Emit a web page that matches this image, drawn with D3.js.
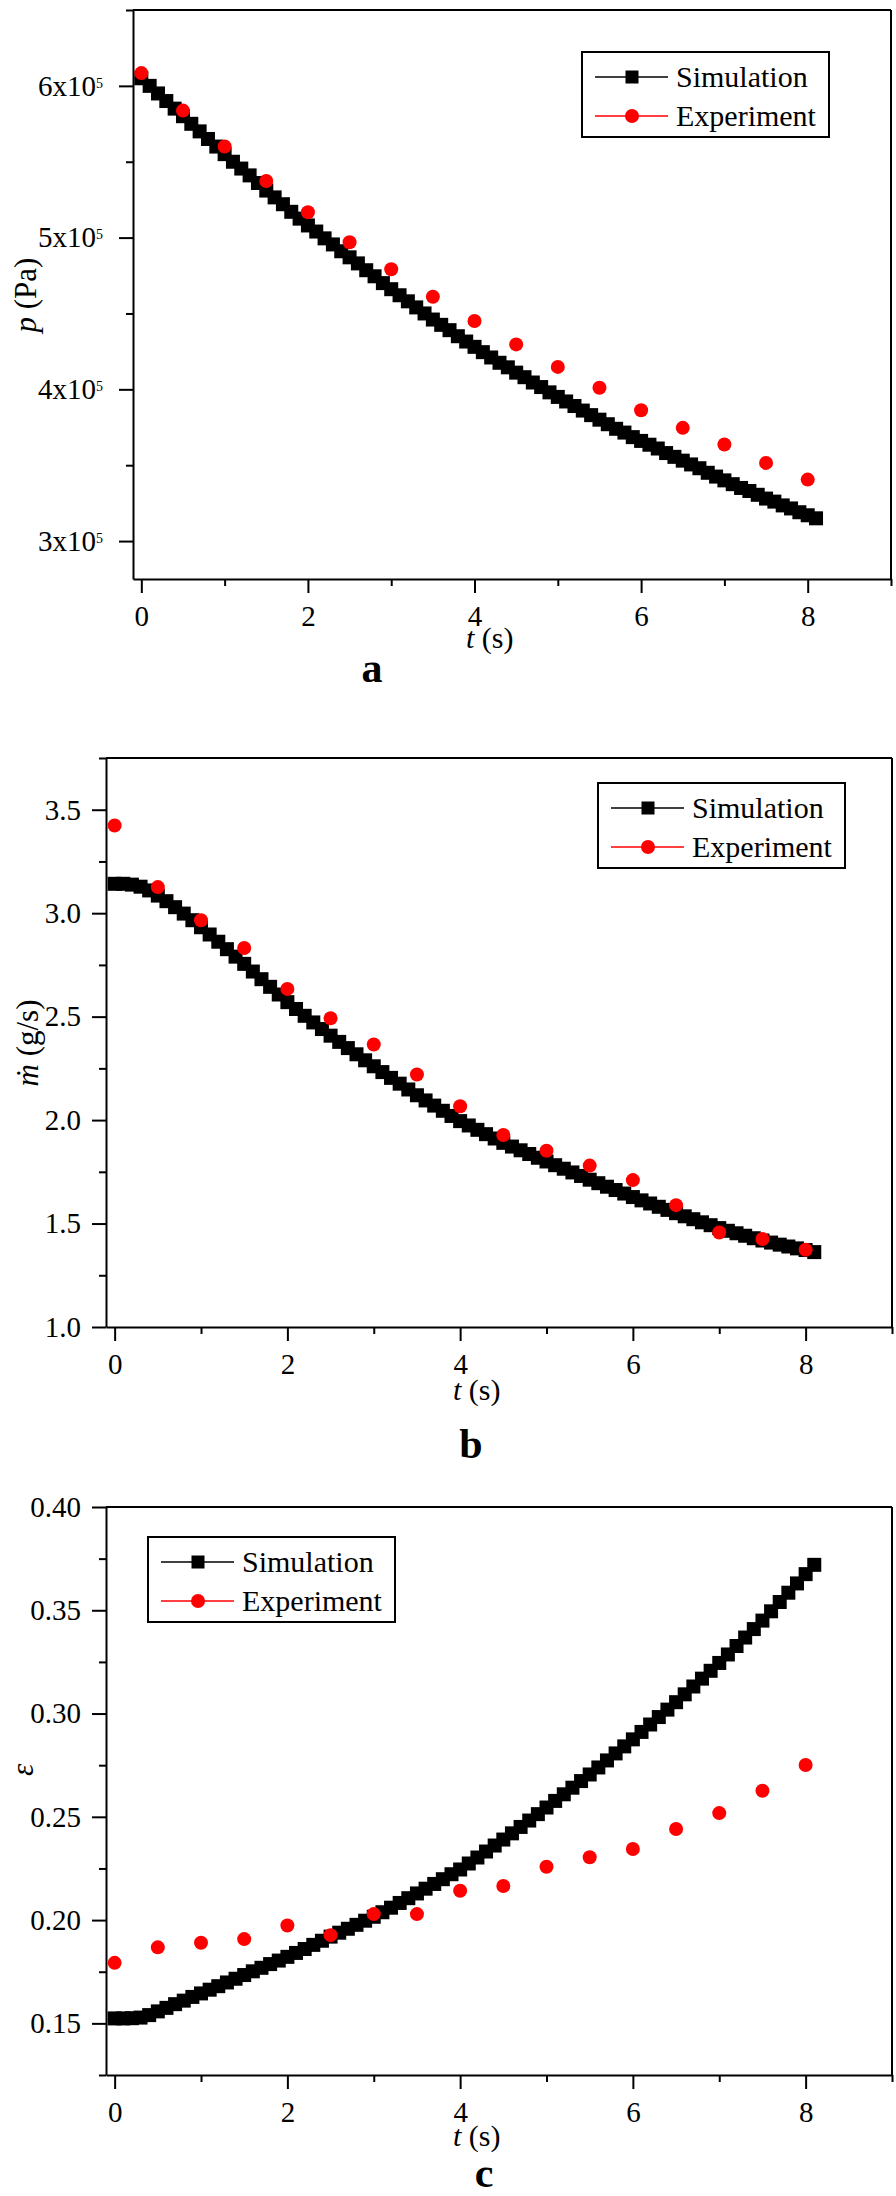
<!DOCTYPE html>
<html lang="en">
<head>
<meta charset="UTF-8">
<title>Simulation vs experiment: p, mass flow, epsilon</title>
<script src="https://d3js.org/d3.v7.min.js"></script>
<style>
  body { margin: 0; background: #fff; }
  svg { display: block; }
  text { font-family: "Liberation Serif", "Times New Roman", serif; fill: #000; }
  .tick text { font-size: 29px; }
  .tick line, .domain { stroke: #000; stroke-width: 2px; }
</style>
</head>
<body>
<svg id="fig" width="896" height="2196"></svg>
<script>
// time axis (s)
const tSim = [0,0.1,0.2,0.3,0.4,0.5,0.6,0.7,0.8,0.9,
  1.0,1.1,1.2,1.3,1.4,1.5,1.6,1.7,1.8,1.9,
  2.0,2.1,2.2,2.3,2.4,2.5,2.6,2.7,2.8,2.9,
  3.0,3.1,3.2,3.3,3.4,3.5,3.6,3.7,3.8,3.9,
  4.0,4.1,4.2,4.3,4.4,4.5,4.6,4.7,4.8,4.9,
  5.0,5.1,5.2,5.3,5.4,5.5,5.6,5.7,5.8,5.9,
  6.0,6.1,6.2,6.3,6.4,6.5,6.6,6.7,6.8,6.9,
  7.0,7.1,7.2,7.3,7.4,7.5,7.6,7.7,7.8,7.9,
  8.0,8.1];
const tExp = [0,0.5,1,1.5,2,2.5,3,3.5,4,4.5,5,5.5,6,6.5,7,7.5,8];

// (a) pressure, in units of 10^5 Pa
const pressureSim = [6.05,6.00,5.95,5.90,5.85,5.80,5.75,5.70,5.65,5.60,
  5.55,5.50,5.455,5.41,5.36,5.31,5.265,5.22,5.17,5.125,
  5.08,5.04,4.995,4.955,4.91,4.87,4.83,4.785,4.745,4.70,
  4.66,4.62,4.58,4.54,4.50,4.46,4.425,4.39,4.35,4.315,
  4.28,4.245,4.21,4.175,4.145,4.11,4.08,4.045,4.015,3.98,
  3.95,3.92,3.89,3.86,3.83,3.80,3.77,3.74,3.715,3.685,
  3.66,3.635,3.61,3.58,3.555,3.53,3.505,3.48,3.45,3.425,
  3.40,3.375,3.35,3.33,3.305,3.28,3.26,3.235,3.215,3.19,
  3.17,3.15];
const pressureExp = [6.084,5.837,5.60,5.373,5.167,4.969,4.791,4.610,4.450,
  4.296,4.148,4.010,3.862,3.746,3.636,3.515,3.405];

// (b) mass flow rate (g/s)
const flowSim = [3.142,3.142,3.138,3.128,3.11,3.085,3.058,3.029,2.998,2.966,
  2.932,2.897,2.862,2.826,2.79,2.755,2.718,2.681,2.644,2.607,
  2.57,2.537,2.504,2.472,2.44,2.408,2.378,2.348,2.318,2.289,
  2.26,2.232,2.204,2.176,2.148,2.12,2.095,2.07,2.045,2.02,
  1.995,1.974,1.953,1.932,1.911,1.89,1.872,1.854,1.836,1.818,
  1.80,1.782,1.765,1.747,1.73,1.712,1.695,1.678,1.662,1.645,
  1.628,1.612,1.597,1.581,1.566,1.55,1.535,1.521,1.506,1.492,
  1.478,1.465,1.453,1.441,1.429,1.418,1.408,1.398,1.389,1.38,
  1.372,1.362];
const flowExp = [3.424,3.126,2.966,2.832,2.634,2.492,2.365,2.220,2.067,
  1.928,1.852,1.780,1.710,1.589,1.457,1.425,1.373];

// (c) epsilon
const epsSim = [0.1524,0.1524,0.1525,0.1528,0.1540,0.1558,0.1575,0.1593,0.1610,0.1628,
  0.1645,0.1663,0.1680,0.1698,0.1716,0.1734,0.1752,0.1769,0.1787,0.1804,
  0.1822,0.1841,0.1860,0.1880,0.1900,0.1920,0.1939,0.1958,0.1977,0.1997,
  0.2016,0.2038,0.2060,0.2083,0.2106,0.2129,0.2152,0.2175,0.2198,0.2222,
  0.2245,0.2274,0.2303,0.2332,0.2361,0.2390,0.2420,0.2451,0.2482,0.2513,
  0.2545,0.2577,0.2609,0.2641,0.2673,0.2705,0.2739,0.2773,0.2807,0.2841,
  0.2875,0.2911,0.2947,0.2983,0.3019,0.3055,0.3093,0.3131,0.3169,0.3207,
  0.3245,0.3286,0.3327,0.3368,0.3409,0.3450,0.3495,0.3540,0.3585,0.3630,
  0.3675,0.3720];
const epsExp = [0.1793,0.1868,0.1890,0.1908,0.1974,0.1927,0.2029,0.2029,0.2142,
  0.2165,0.2258,0.2304,0.2344,0.2441,0.2518,0.2626,0.2751];

// ticks
const xMajor = [0, 2, 4, 6, 8];
const xMinor = [1, 3, 5, 7, 9];
const yMajorA = [3, 4, 5, 6];
const yMinorA = [3.5, 4.5, 5.5, 6.5];
const yMajorB = [1.0, 1.5, 2.0, 2.5, 3.0, 3.5];
const yMinorB = [1.25, 1.75, 2.25, 2.75, 3.25, 3.75];
const yMajorC = [0.15, 0.20, 0.25, 0.30, 0.35, 0.40];
const yMinorC = [0.125, 0.175, 0.225, 0.275, 0.325, 0.375];
const seriesNames = ["Simulation", "Experiment"];

const svg = d3.select("#fig");
const RED = "#ff0000";
const SQ = 14; // simulation marker side

const panels = [
  { left: 133, right: 891, top: 10, bottom: 579,
    yDomain: [2.75, 6.5], yMajor: yMajorA, yMinor: yMinorA, sci: true, yPad: 16,
    sim: pressureSim, exp: pressureExp,
    yTitle: "p", yUnit: " (Pa)", yTitleX: 36, yTitleY: 295,
    xTitle: [466, 648], legend: [582, 52], tag: "a", tagPos: [372, 682] },
  { left: 106, right: 892, top: 758, bottom: 1327,
    yDomain: [1.0, 3.75], yMajor: yMajorB, yMinor: yMinorB, fmt: d3.format(".1f"), yPad: 11,
    sim: flowSim, exp: flowExp,
    yTitle: "\u1E41", yUnit: " (g/s)", yTitleX: 38, yTitleY: 1043,
    xTitle: [453, 1400], legend: [598, 783], tag: "b", tagPos: [471, 1458] },
  { left: 106, right: 892, top: 1507, bottom: 2075,
    yDomain: [0.125, 0.40], yMajor: yMajorC, yMinor: yMinorC, fmt: d3.format(".2f"), yPad: 11,
    sim: epsSim, exp: epsExp,
    yTitle: "\u03B5", yUnit: "", yTitleX: 33, yTitleY: 1770,
    xTitle: [453, 2146], legend: [148, 1537], tag: "c", tagPos: [484, 2187] }
];

panels.forEach(drawPanel);

function drawPanel(cfg) {
  const x = d3.scaleLinear().domain([-0.1, 9]).range([cfg.left, cfg.right]);
  const y = d3.scaleLinear().domain(cfg.yDomain).range([cfg.bottom, cfg.top]);
  const g = svg.append("g");

  // minor ticks
  g.append("g").attr("transform", `translate(0,${cfg.bottom})`)
    .call(d3.axisBottom(x).tickValues(xMinor).tickSize(7).tickFormat(""))
    .call(s => s.select(".domain").remove());
  g.append("g").attr("transform", `translate(${cfg.left},0)`)
    .call(d3.axisLeft(y).tickValues(cfg.yMinor).tickSize(7).tickFormat(""))
    .call(s => s.select(".domain").remove());

  // major ticks + axis lines
  g.append("g").attr("transform", `translate(0,${cfg.bottom})`)
    .call(d3.axisBottom(x).tickValues(xMajor).tickSize(14).tickSizeOuter(0).tickPadding(12));

  const yAxis = g.append("g").attr("transform", `translate(${cfg.left},0)`)
    .call(d3.axisLeft(y).tickValues(cfg.yMajor).tickSize(14).tickSizeOuter(0)
      .tickPadding(cfg.yPad).tickFormat(cfg.sci ? () => "" : cfg.fmt));

  if (cfg.sci) {
    yAxis.selectAll(".tick text").each(function(d) {
      const t = d3.select(this);
      t.append("tspan").text(d + "x10");
      t.append("tspan").attr("font-size", 14).attr("dy", -8).text("5");
    });
  }

  // top and right frame
  g.append("line").attr("x1", cfg.left).attr("x2", cfg.right)
    .attr("y1", cfg.top).attr("y2", cfg.top)
    .attr("stroke", "#000").attr("stroke-width", 2);
  g.append("line").attr("x1", cfg.right).attr("x2", cfg.right)
    .attr("y1", cfg.top).attr("y2", cfg.bottom)
    .attr("stroke", "#000").attr("stroke-width", 2);

  // simulation: line under dense square markers
  const simPts = d3.zip(tSim, cfg.sim);
  g.append("path").datum(simPts)
    .attr("fill", "none").attr("stroke", "#000").attr("stroke-width", 1.5)
    .attr("d", d3.line().x(d => x(d[0])).y(d => y(d[1])));
  g.selectAll("rect.sim").data(simPts).join("rect")
    .attr("class", "sim")
    .attr("x", d => x(d[0]) - SQ / 2).attr("y", d => y(d[1]) - SQ / 2)
    .attr("width", SQ).attr("height", SQ).attr("fill", "#000");

  // experiment: circles only
  g.selectAll("circle.exp").data(d3.zip(tExp, cfg.exp)).join("circle")
    .attr("class", "exp")
    .attr("cx", d => x(d[0])).attr("cy", d => y(d[1]))
    .attr("r", 7).attr("fill", RED);

  // axis titles
  const yt = g.append("text")
    .attr("transform", `translate(${cfg.yTitleX},${cfg.yTitleY}) rotate(-90)`)
    .attr("text-anchor", "middle").attr("font-size", 31);
  yt.append("tspan").attr("font-style", "italic").text(cfg.yTitle);
  if (cfg.yUnit) yt.append("tspan").text(cfg.yUnit);

  const xt = g.append("text").attr("x", cfg.xTitle[0]).attr("y", cfg.xTitle[1])
    .attr("font-size", 30);
  xt.append("tspan").attr("font-style", "italic").text("t");
  xt.append("tspan").text(" (s)");

  // legend
  const [lx, ly] = cfg.legend;
  const lg = g.append("g").attr("transform", `translate(${lx},${ly})`);
  lg.append("rect").attr("width", 247).attr("height", 85)
    .attr("fill", "#fff").attr("stroke", "#000").attr("stroke-width", 2);
  seriesNames.forEach((name, i) => {
    const ry = i === 0 ? 25 : 64;
    const col = i === 0 ? "#000" : RED;
    lg.append("line").attr("x1", 13).attr("x2", 86).attr("y1", ry).attr("y2", ry)
      .attr("stroke", col).attr("stroke-width", 1.5);
    if (i === 0) {
      lg.append("rect").attr("x", 50 - 6.5).attr("y", ry - 6.5)
        .attr("width", 13).attr("height", 13).attr("fill", col);
    } else {
      lg.append("circle").attr("cx", 50).attr("cy", ry).attr("r", 7).attr("fill", col);
    }
    lg.append("text").attr("x", 94).attr("y", ry + 10)
      .attr("font-size", 30).text(name);
  });

  // panel tag
  g.append("text").attr("x", cfg.tagPos[0]).attr("y", cfg.tagPos[1])
    .attr("text-anchor", "middle").attr("font-size", 42).attr("font-weight", "bold")
    .text(cfg.tag);
}
</script>
</body>
</html>
